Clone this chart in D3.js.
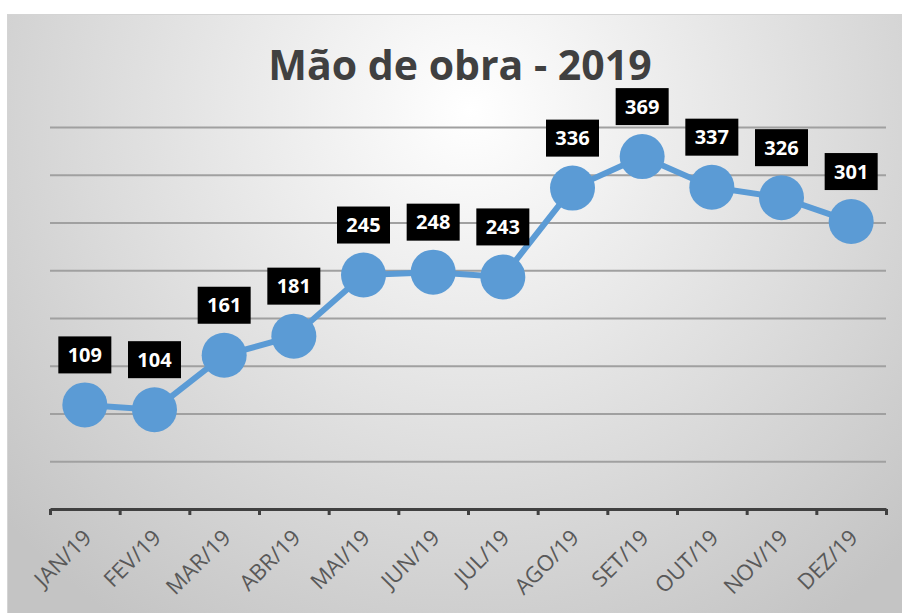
<!DOCTYPE html>
<html>
<head>
<meta charset="utf-8">
<script src="https://cdn.jsdelivr.net/npm/d3@7"></script>
<style>
  body { margin: 0; background: #fff; }
  svg { display: block; }
</style>
</head>
<body>
<script>
// data
var months = ["JAN/19", "FEV/19", "MAR/19", "ABR/19", "MAI/19", "JUN/19",
              "JUL/19", "AGO/19", "SET/19", "OUT/19", "NOV/19", "DEZ/19"];
var values = [109, 104, 161, 181, 245, 248, 243, 336, 369, 337, 326, 301];
var yTicks = [0, 50, 100, 150, 200, 250, 300, 350, 400];
var title = "Mão de obra - 2019";

var W = 902, H = 613;
var plot = {left: 50, right: 886, top: 127, bottom: 509};

var svg = d3.select("body").append("svg")
    .attr("width", W)
    .attr("height", H);

// background gradient
var defs = svg.append("defs");
var grad = defs.append("radialGradient")
    .attr("id", "bg")
    .attr("gradientUnits", "userSpaceOnUse")
    .attr("cx", 470).attr("cy", 110).attr("r", 620);
grad.append("stop").attr("offset", "0%").attr("stop-color", "#ffffff");
grad.append("stop").attr("offset", "100%").attr("stop-color", "#c4c4c4");

svg.append("rect")
    .attr("x", 7.5).attr("y", 14.5)
    .attr("width", W).attr("height", H)
    .attr("fill", "url(#bg)")
    .attr("stroke", "#d4d4d4")
    .attr("stroke-width", 1);

var x = d3.scaleBand()
    .domain(months)
    .range([plot.left, plot.right]);

// boundaries between categories, for the tick marks
var xEdge = d3.scaleLinear()
    .domain([0, months.length])
    .range([plot.left, plot.right]);

var y = d3.scaleLinear()
    .domain([0, 400])
    .range([plot.bottom, plot.top]);

// gridlines
var yAxis = d3.axisLeft(y)
    .tickValues(yTicks.slice(1))
    .tickSize(-(plot.right - plot.left))
    .tickFormat("");

svg.append("g")
    .attr("transform", "translate(" + plot.left + ",0)")
    .call(yAxis)
    .call(function(g) {
        g.select(".domain").remove();
        g.selectAll(".tick line")
            .attr("stroke", "#a0a0a0")
            .attr("stroke-width", 1.8);
    });

// x axis
var xAxis = d3.axisBottom(xEdge)
    .tickValues(d3.range(months.length + 1))
    .tickSizeInner(6)
    .tickSizeOuter(0)
    .tickFormat("");

svg.append("g")
    .attr("transform", "translate(0," + plot.bottom + ")")
    .call(xAxis)
    .call(function(g) {
        g.select(".domain").attr("stroke", "#404040").attr("stroke-width", 3);
        g.selectAll(".tick line").attr("stroke", "#404040").attr("stroke-width", 3);
    });

svg.append("g").selectAll("text")
    .data(months)
    .enter().append("text")
    .attr("transform", function(d) {
        return "translate(" + (x(d) + x.bandwidth() / 2 + 8) + "," + (plot.bottom + 30) + ") rotate(-45)";
    })
    .attr("text-anchor", "end")
    .attr("font-family", "Open Sans")
    .attr("font-size", 22)
    .attr("fill", "#595959")
    .text(function(d) { return d; });

// title
svg.append("text")
    .attr("x", 460)
    .attr("y", 80)
    .attr("text-anchor", "middle")
    .attr("font-family", "Open Sans")
    .attr("font-weight", "bold")
    .attr("font-size", 41)
    .attr("fill", "#404040")
    .text(title);

// line + markers
var line = d3.line()
    .x(function(d, i) { return x(months[i]) + x.bandwidth() / 2; })
    .y(function(d) { return y(d); });

svg.append("path")
    .datum(values)
    .attr("fill", "none")
    .attr("stroke", "#5b9bd5")
    .attr("stroke-width", 6)
    .attr("d", line);

svg.append("g").selectAll("circle")
    .data(values)
    .enter().append("circle")
    .attr("cx", function(d, i) { return x(months[i]) + x.bandwidth() / 2; })
    .attr("cy", function(d) { return y(d); })
    .attr("r", 22.5)
    .attr("fill", "#5b9bd5");

// data labels
var labels = svg.append("g").selectAll("g")
    .data(values)
    .enter().append("g")
    .attr("transform", function(d, i) {
        return "translate(" + (x(months[i]) + x.bandwidth() / 2) + "," + (y(d) - 50) + ")";
    });

labels.append("rect")
    .attr("x", -26.5).attr("y", -18.5)
    .attr("width", 53).attr("height", 37)
    .attr("fill", "#000");

labels.append("text")
    .attr("text-anchor", "middle")
    .attr("dy", "0.36em")
    .attr("font-family", "Open Sans")
    .attr("font-weight", "bold")
    .attr("font-size", 20)
    .attr("fill", "#fff")
    .text(function(d) { return d; });
</script>
</body>
</html>
